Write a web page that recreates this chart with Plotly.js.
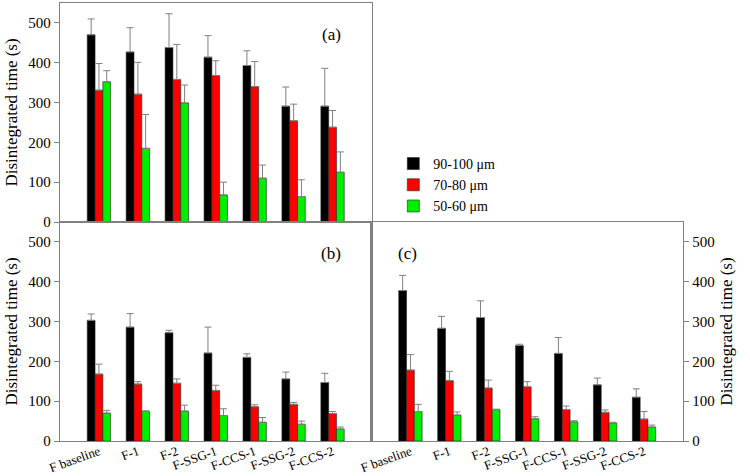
<!DOCTYPE html>
<html>
<head>
<meta charset="utf-8">
<script src="https://cdn.plot.ly/plotly-3.0.1.min.js"></script>
<style>html,body{margin:0;padding:0;background:#fff;}#chart{width:750px;height:476px;}</style>
</head>
<body>
<div id="chart"></div>
<script>
const categories = ['F baseline','F-1','F-2','F-SSG-1','F-CCS-1','F-SSG-2','F-CCS-2'];
const seriesNames = ['90-100 \u03bcm','70-80 \u03bcm','50-60 \u03bcm'];
const seriesColors = ['#000000','#ff0000','#00ee00'];

// Panel (a)
const a90 = [470,427,438,414,393,291,291];
const a90err = [40,61,85,54,37,48,95];
const a70 = [331,321,358,368,340,254,238];
const a70err = [67,80,88,37,63,42,42];
const a50 = [352,185,299,68,110,64,125];
const a50err = [28,85,45,32,33,42,51];
// Panel (b)
const b90 = [303,286,272,221,210,156,147];
const b90err = [16,34,6,65,9,17,23];
const b70 = [168,143,145,127,86,92,69];
const b70err = [25,6,11,13,5,5,5];
const b50 = [70,74,75,64,47,42,30];
const b50err = [7,2,15,17,12,8,5];
// Panel (c)
const c90 = [378,283,310,240,220,141,110];
const c90err = [38,30,42,3,40,17,21];
const c70 = [178,152,133,136,79,72,55];
const c70err = [39,23,20,13,9,6,19];
const c50 = [74,65,79,56,48,45,35];
const c50err = [18,8,1,5,3,2,5];

const yTicks = [0,100,200,300,400,500];

const panels = [
  {xa:'x', ya:'y', vals:[a90,a70,a50], errs:[a90err,a70err,a50err], legend:true},
  {xa:'x2', ya:'y2', vals:[b90,b70,b50], errs:[b90err,b70err,b50err], legend:false},
  {xa:'x3', ya:'y3', vals:[c90,c70,c50], errs:[c90err,c70err,c50err], legend:false}
];

const traces = [];
panels.forEach(p => {
  for (let s = 0; s < 3; s++) {
    traces.push({
      type:'bar', x:categories, y:p.vals[s], xaxis:p.xa, yaxis:p.ya,
      name:seriesNames[s], legendgroup:'s'+s, showlegend:p.legend,
      marker:{color:seriesColors[s], line:{color:'#222', width:0.6}},
      error_y:{type:'data', symmetric:false, array:p.errs[s], arrayminus:p.errs[s].map(()=>0),
               color:'#808080', thickness:1, width:3.5}
    });
  }
});

const serif = 'Liberation Serif';
const lineCol = '#808080';
function xaxis(domain, anchor, labels) {
  return {domain:domain, anchor:anchor, type:'category', categoryarray:categories,
    range:[-1,7], showline:true, mirror:true, linecolor:lineCol, linewidth:1.2,
    ticks:'', showticklabels:labels, tickangle:-20, showgrid:false, zeroline:false,
    ticklabelstandoff:-3,
    tickfont:{family:serif, size:13, color:'#000'}, fixedrange:true};
}
function yaxis(domain, anchor, side) {
  return {domain:domain, anchor:anchor, side:side, range:[0,550], tickvals:yTicks,
    showline:true, mirror:true, linecolor:lineCol, linewidth:1.2,
    ticks:'outside', ticklen:5, tickcolor:lineCol, showgrid:false, zeroline:false,
    tickfont:{family:serif, size:15, color:'#000'},
    title:{text:'Disintegrated time (s)', font:{family:serif, size:17, color:'#000'}, standoff:6}};
}

const layout = {
  width:750, height:476,
  margin:{l:60, r:67, t:3, b:35},
  paper_bgcolor:'#fff', plot_bgcolor:'#fff',
  barmode:'group', bargap:0.4, bargroupgap:0,
  font:{family:serif, color:'#000'},
  xaxis: xaxis([0,0.5], 'y', false),
  yaxis: yaxis([0.5,1], 'x', 'left'),
  xaxis2: xaxis([0,0.5], 'y2', true),
  yaxis2: yaxis([0,0.5], 'x2', 'left'),
  xaxis3: xaxis([0.5,1], 'y3', true),
  yaxis3: yaxis([0,0.5], 'x3', 'right'),
  showlegend:true,
  legend:{x:0.535, y:0.669, xanchor:'left', yanchor:'top', bgcolor:'rgba(0,0,0,0)',
    font:{family:serif, size:14, color:'#000'}, tracegroupgap:0, itemwidth:30},
  annotations:[
    {xref:'x domain', yref:'y domain', x:0.91, y:0.91, text:'(a)', showarrow:false, font:{family:serif, size:17}},
    {xref:'x2 domain', yref:'y2 domain', x:0.91, y:0.91, text:'(b)', showarrow:false, font:{family:serif, size:17}},
    {xref:'x3 domain', yref:'y3 domain', x:0.08, y:0.91, text:'(c)', showarrow:false, font:{family:serif, size:17}}
  ]
};

Plotly.newPlot('chart', traces, layout, {displayModeBar:false, staticPlot:true});
</script>
</body>
</html>
